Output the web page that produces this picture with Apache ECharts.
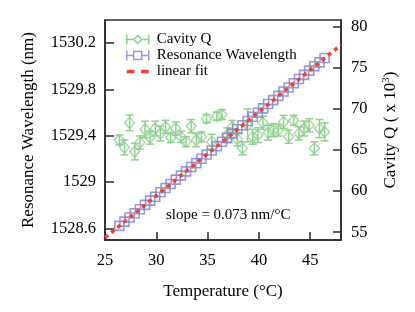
<!DOCTYPE html>
<html><head><meta charset="utf-8">
<script src="https://cdn.jsdelivr.net/npm/echarts@6/dist/echarts.min.js"></script>
<style>html,body{margin:0;padding:0;background:#fff}#c{width:415px;height:312px}</style>
</head><body><div id="c"></div>
<script>
// ---- data ----
const temperature = [26.4,26.9,27.4,27.9,28.4,28.9,29.4,29.9,30.4,30.9,31.4,31.9,32.4,32.9,33.4,33.9,34.4,34.9,35.4,35.9,36.4,36.9,37.4,37.9,38.4,38.9,39.4,39.9,40.4,40.9,41.4,41.9,42.4,42.9,43.4,43.9,44.4,44.9,45.4,45.9,46.4];
const wavelength = [1528.622,1528.659,1528.694,1528.731,1528.766,1528.803,1528.840,1528.874,1528.912,1528.949,1528.983,1529.021,1529.056,1529.093,1529.130,1529.164,1529.202,1529.239,1529.273,1529.310,1529.348,1529.382,1529.419,1529.456,1529.491,1529.528,1529.565,1529.599,1529.637,1529.674,1529.708,1529.745,1529.783,1529.817,1529.854,1529.891,1529.926,1529.963,1530.000,1530.034,1530.072];
const cavityQ = [66.2,65.3,68.3,64.8,65.9,67.5,66.5,67.6,67.0,67.8,66.5,67.6,66.6,66.0,67.9,66.2,66.6,68.8,66.0,69.1,69.3,66.8,67.8,66.3,65.2,68.0,66.6,66.8,68.3,67.1,67.4,67.4,68.4,66.6,68.6,67.0,67.6,68.0,65.2,67.6,67.2];
const cavityQErr = [0.6,0.9,0.95,1.0,0.8,1.0,0.8,0.9,0.9,0.8,0.6,0.8,0.7,0.6,0.8,0.8,0.6,0.5,0.9,0.5,0.6,0.9,0.8,0.8,0.8,2.0,0.9,0.9,0.8,0.9,0.8,0.7,0.8,0.8,0.6,0.8,0.9,0.8,0.8,1.1,1.1];
const fitT = [25, 48];
const fitWavelength = [1528.52, 1530.185];
const xTicks = [25,30,35,40,45];
const leftTicks = [1528.6,1529,1529.4,1529.8,1530.2];
const rightTicks = [55,60,65,70,75,80];
const slopeText = 'slope = 0.073 nm/°C';

// ---- chart ----
const FONT = 'Liberation Serif';
const GREEN = '#8fd08f', PURPLE = '#7f7fcc', RED = '#f2412d', AX = '#2a2a2a';
const chart = echarts.init(document.getElementById('c'), null, {renderer:'canvas'});
const qData = temperature.map((t,i)=>[t,cavityQ[i]]);
const errData = temperature.map((t,i)=>[t,cavityQ[i]-cavityQErr[i],cavityQ[i]+cavityQErr[i]]);
const wlData = temperature.map((t,i)=>[t,wavelength[i]]);
const fitData = fitT.map((t,i)=>[t,fitWavelength[i]]);
const fmt = v => String(+(+v).toFixed(1));
const tickLab = {fontFamily:FONT,fontSize:16.5,color:'#000'};

chart.setOption({
  animation:false,
  grid:{left:105,right:74,top:20,bottom:72,show:true,borderColor:AX,borderWidth:1.5,backgroundColor:'transparent'},
  legend:{
    orient:'vertical', left:121, top:27, itemGap:1, itemWidth:22, itemHeight:10,
    textStyle:{fontFamily:FONT,fontSize:15,color:'#000',padding:[0,0,0,3]},
    data:[
      {name:'Cavity Q', icon:'path://M0,5L7,5M15,5L22,5M0,0L0,10M22,0L22,10M11,1L15,5L11,9L7,5Z', itemStyle:{color:'rgba(0,0,0,0)',borderColor:GREEN,borderWidth:1.5}},
      {name:'Resonance Wavelength', icon:'path://M0,5L7,5M15,5L22,5M0,0L0,10M22,0L22,10M7,1L15,1L15,9L7,9Z', itemStyle:{color:'rgba(0,0,0,0)',borderColor:PURPLE,borderWidth:1.5}},
      {name:'linear fit', icon:'path://M1,3.5L8,3.5L8,6.5L1,6.5ZM14,3.5L21,3.5L21,6.5L14,6.5Z', itemStyle:{color:RED,borderWidth:0}}
    ]
  },
  xAxis:{
    type:'value', min:25, max:48, interval:5,
    name:'Temperature (°C)', nameLocation:'middle', nameGap:43,
    nameTextStyle:{fontFamily:FONT,fontSize:17,color:'#000'},
    axisLine:{show:true,lineStyle:{color:AX,width:1.5}},
    axisTick:{show:true,inside:true,length:8,lineStyle:{color:AX,width:1.5},customValues:xTicks},
    axisLabel:Object.assign({margin:12,customValues:xTicks,formatter:fmt},tickLab),
    splitLine:{show:false}
  },
  yAxis:[{
    type:'value', position:'left', min:1528.5, max:1530.4,
    name:'Resonance Wavelength (nm)', nameLocation:'middle', nameGap:68, nameRotate:90,
    nameTextStyle:{fontFamily:FONT,fontSize:17,color:'#000'},
    axisLine:{show:true,lineStyle:{color:AX,width:1.5}},
    axisTick:{show:true,inside:true,length:9,lineStyle:{color:AX,width:1.5},customValues:leftTicks},
    axisLabel:Object.assign({margin:9,customValues:leftTicks,formatter:fmt},tickLab),
    splitLine:{show:false}
  },{
    type:'value', position:'right', min:54.05, max:80.8,
    name:'Cavity Q ( x 10{sup|3})', nameLocation:'middle', nameGap:40, nameRotate:90,
    nameTextStyle:{fontFamily:FONT,fontSize:17,color:'#000',rich:{sup:{fontFamily:FONT,fontSize:11,color:'#000',verticalAlign:'top',padding:[0,0,8,0]}}},
    axisLine:{show:true,lineStyle:{color:AX,width:1.5}},
    axisTick:{show:true,inside:true,length:8,lineStyle:{color:AX,width:1.5},customValues:rightTicks},
    axisLabel:Object.assign({margin:10,customValues:rightTicks,formatter:fmt},tickLab),
    splitLine:{show:false}
  }],
  graphic:[{type:'text',left:166,top:208,style:{text:slopeText,fontFamily:FONT,fontSize:15,fill:'#000'}}],
  series:[
    {
      name:'Cavity Q', type:'custom', yAxisIndex:1, data:errData, silent:true, legendHoverLink:false,
      itemStyle:{color:GREEN},
      encode:{x:0,y:[1,2]},
      renderItem:function(params,api){
        const x = api.value(0), lo = api.coord([x,api.value(1)]), hi = api.coord([x,api.value(2)]);
        const c = 4;
        return {type:'group',children:[
          {type:'line',shape:{x1:lo[0],y1:lo[1],x2:hi[0],y2:hi[1]},style:{stroke:GREEN,lineWidth:1.5}},
          {type:'line',shape:{x1:lo[0]-c,y1:lo[1],x2:lo[0]+c,y2:lo[1]},style:{stroke:GREEN,lineWidth:1.5}},
          {type:'line',shape:{x1:hi[0]-c,y1:hi[1],x2:hi[0]+c,y2:hi[1]},style:{stroke:GREEN,lineWidth:1.5}}
        ]};
      },
      z:2
    },
    {
      name:'Cavity Q', type:'scatter', yAxisIndex:1, data:qData,
      symbol:'diamond', symbolSize:[10,11],
      itemStyle:{color:'rgba(0,0,0,0)',borderColor:GREEN,borderWidth:1.5}, z:3
    },
    {
      name:'Resonance Wavelength', type:'scatter', yAxisIndex:0, data:wlData,
      symbol:'rect', symbolSize:9,
      itemStyle:{color:'rgba(0,0,0,0)',borderColor:PURPLE,borderWidth:1.6}, z:4
    },
    {
      name:'linear fit', type:'line', yAxisIndex:0, data:fitData, showSymbol:false, symbol:'none',
      lineStyle:{color:RED,width:3.5,type:[4,4]}, itemStyle:{color:RED}, z:5
    }
  ]
});
</script></body></html>
